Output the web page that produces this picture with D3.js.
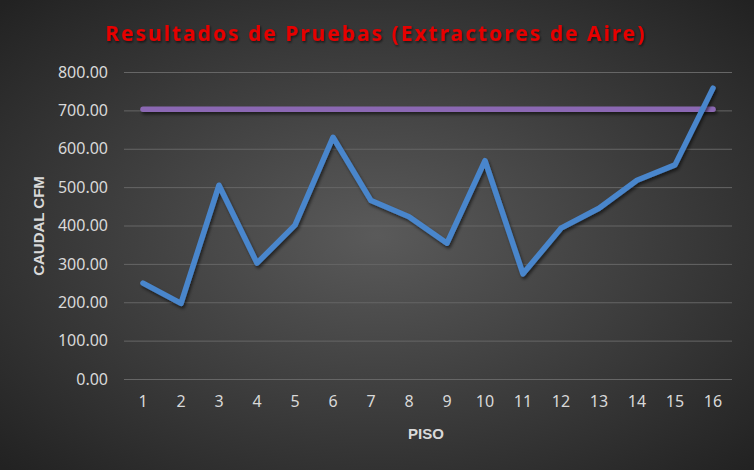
<!DOCTYPE html>
<html>
<head>
<meta charset="utf-8">
<script src="https://cdn.jsdelivr.net/npm/d3@7/dist/d3.min.js"></script>
<style>
  html, body { margin: 0; padding: 0; background: #262626; }
  svg { display: block; }
  .tick text { font-family: "Noto Sans", "Open Sans", sans-serif; font-size: 16px; fill: #d9d9d9; }
</style>
</head>
<body>
<svg id="chart" width="754" height="470"></svg>
<script>
// data
const pisos = ['1', '2', '3', '4', '5', '6', '7', '8', '9', '10', '11', '12', '13', '14', '15', '16'];
const caudal = [250, 197, 505, 302, 401, 630, 465, 423, 354, 569, 274, 393, 445, 518, 558, 758];
const referencia = [703, 703, 703, 703, 703, 703, 703, 703, 703, 703, 703, 703, 703, 703, 703, 703];
const yTicks = [0, 100, 200, 300, 400, 500, 600, 700, 800];

const svg = d3.select('#chart');
const width = +svg.attr('width');
const height = +svg.attr('height');

const margin = { top: 72, right: 22, bottom: 91, left: 124 };
const plotW = width - margin.left - margin.right;
const plotH = height - margin.top - margin.bottom;

// background: dark radial gradient like the Excel style
const defs = svg.append('defs');
const grad = defs.append('radialGradient')
  .attr('id', 'bg')
  .attr('cx', '50%').attr('cy', '50%').attr('r', '70%');
grad.append('stop').attr('offset', '0%').attr('stop-color', '#5a5a5a');
grad.append('stop').attr('offset', '100%').attr('stop-color', '#222222');

// user space units so the flat reference line still gets its shadow
const shadow = defs.append('filter')
  .attr('id', 'shadow')
  .attr('filterUnits', 'userSpaceOnUse')
  .attr('x', -20).attr('y', -20).attr('width', plotW + 40).attr('height', plotH + 40);
shadow.append('feDropShadow')
  .attr('dx', 1.5).attr('dy', 2.5).attr('stdDeviation', 1.8)
  .attr('flood-color', '#000').attr('flood-opacity', 0.55);

const titleShadow = defs.append('filter').attr('id', 'tshadow');
titleShadow.append('feDropShadow')
  .attr('dx', 1).attr('dy', 1.5).attr('stdDeviation', 1.2)
  .attr('flood-color', '#000').attr('flood-opacity', 0.6);

svg.append('rect')
  .attr('width', width).attr('height', height)
  .attr('fill', 'url(#bg)');

const g = svg.append('g')
  .attr('transform', `translate(${margin.left},${margin.top})`);

const x = d3.scaleBand().domain(pisos).range([0, plotW]);
const y = d3.scaleLinear().domain([0, 800]).range([plotH, 0]);

// gridlines + y labels
const yAxis = g.append('g')
  .call(d3.axisLeft(y).tickValues(yTicks).tickSize(-plotW).tickPadding(16)
    .tickFormat(d3.format('.2f')));
yAxis.select('.domain').remove();
yAxis.selectAll('.tick line').attr('stroke', '#666666').attr('stroke-width', 1);

// x labels
const xAxis = g.append('g')
  .attr('transform', `translate(0,${plotH})`)
  .call(d3.axisBottom(x).tickSize(0).tickPadding(17));
xAxis.select('.domain').remove();

const line = d3.line()
  .x((d, i) => x(pisos[i]) + x.bandwidth() / 2)
  .y((d) => y(d));

g.append('path')
  .datum(referencia)
  .attr('d', line)
  .attr('fill', 'none')
  .attr('stroke', '#8b68b3')
  .attr('stroke-width', 5.5)
  .attr('stroke-linecap', 'round')
  .attr('filter', 'url(#shadow)');

g.append('path')
  .datum(caudal)
  .attr('d', line)
  .attr('fill', 'none')
  .attr('stroke', '#4a86cc')
  .attr('stroke-width', 5.5)
  .attr('stroke-linejoin', 'round')
  .attr('stroke-linecap', 'round')
  .attr('filter', 'url(#shadow)');

// title
svg.append('text')
  .attr('x', 375)
  .attr('y', 41)
  .attr('text-anchor', 'middle')
  .attr('textLength', 539)
  .attr('lengthAdjust', 'spacing')
  .style('font-family', '"Noto Sans", "Open Sans", sans-serif')
  .style('font-weight', 'bold')
  .style('font-size', '21px')
  .style('fill', '#e60000')
  .attr('filter', 'url(#tshadow)')
  .text('Resultados de Pruebas (Extractores de Aire)');

// axis titles
svg.append('text')
  .attr('transform', 'translate(44,226) rotate(-90)')
  .attr('text-anchor', 'middle')
  .style('font-family', '"Liberation Sans", Arial, sans-serif')
  .style('font-weight', 'bold')
  .style('font-size', '15px')
  .style('fill', '#d9d9d9')
  .text('CAUDAL CFM');

svg.append('text')
  .attr('x', 426)
  .attr('y', 439)
  .attr('text-anchor', 'middle')
  .style('font-family', '"Liberation Sans", Arial, sans-serif')
  .style('font-weight', 'bold')
  .style('font-size', '15px')
  .style('fill', '#d9d9d9')
  .text('PISO');
</script>
</body>
</html>
